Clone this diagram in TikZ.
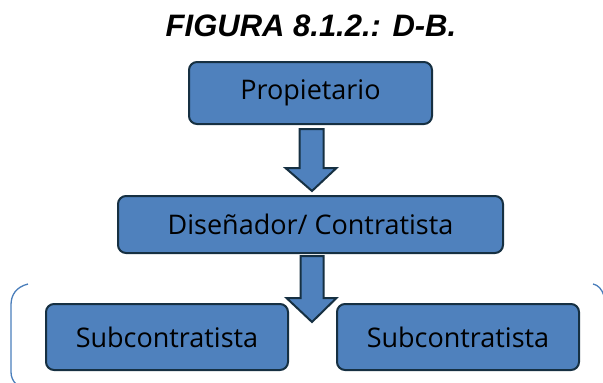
\documentclass[tikz,border=0pt]{standalone}
\usepackage{fontspec}
\setmainfont{Open Sans}
\newfontfamily\titlefont{Liberation Sans}
\usetikzlibrary{calc}

\definecolor{boxblue}{RGB}{79,129,189}
\definecolor{boxedge}{RGB}{22,48,66}
\definecolor{bracketblue}{RGB}{74,126,187}

\tikzset{
  rolebox/.style={draw=boxedge, line width=2pt, fill=boxblue, rounded corners=8pt,
    inner sep=0pt, font=\fontsize{27}{30}\selectfont},
  downarrow/.style={draw=boxedge, line width=2pt, fill=boxblue, line join=miter},
}

\begin{document}
\begin{tikzpicture}[x=1pt,y=-1pt]
\useasboundingbox (0,0) rectangle (603,383);
\node (title) at (311,26) {\titlefont\fontsize{31}{34}\selectfont\bfseries\itshape FIGURA 8.1.2.: D-B.};

\node[rolebox, minimum width=243pt, minimum height=62pt] (prop) at (310.5,93) {Propietario};
\node[rolebox, minimum width=385pt, minimum height=57pt] (dc) at (310.5,224.5) {Diseñador/ Contratista};
\node[rolebox, minimum width=242pt, minimum height=66pt] (subA) at (167,337) {Subcontratista};
\node[rolebox, minimum width=242pt, minimum height=66pt] (subB) at (458,337) {Subcontratista};

% block arrows
\draw[downarrow] ($(prop.south)+(-11,4)$) -- ($(prop.south)+(13,4)$)
  -- ($(prop.south)+(13,43)$) -- ($(prop.south)+(26,43)$)
  -- ($(dc.north)+(1.5,-4)$) -- ($(prop.south)+(-25,43)$)
  -- ($(prop.south)+(-11,43)$) -- cycle;
\coordinate (tip) at (312,322);
\draw[downarrow] ($(dc.south)+(-10,2)$) -- ($(dc.south)+(13,2)$)
  -- ($(dc.south)+(13,44)$) -- ($(dc.south)+(26,44)$)
  -- (tip) -- ($(dc.south)+(-24,44)$)
  -- ($(dc.south)+(-10,44)$) -- cycle;

% bracket
\draw[bracketblue, line width=1.3pt] (28,284) .. controls (16,287) and (11,295) .. (11,305) -- (11,372)
  .. controls (11,377) and (13,381) .. (16,384);
\draw[bracketblue, line width=1.3pt] (593,284) .. controls (598,285) and (602,289) .. (604,296);
\end{tikzpicture}
\end{document}
